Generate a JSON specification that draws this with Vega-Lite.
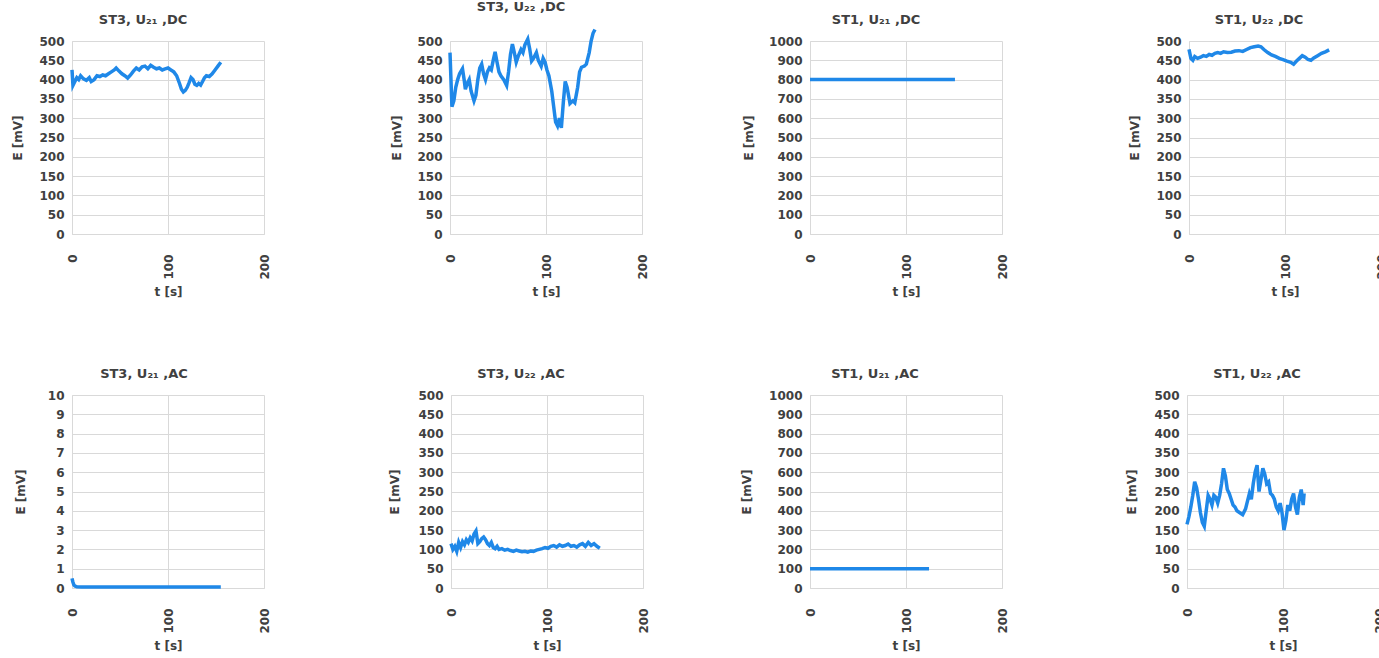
{
  "$schema": "https://vega.github.io/schema/vega-lite/v6.json",
  "autosize": {"type": "pad"},
  "padding": {"left": 0, "top": 1, "right": 0, "bottom": 0},
  "background": "white",
  "config": {
    "view": {"stroke": null},
    "font": "DejaVu Sans",
    "title": {"font": "DejaVu Sans", "fontSize": 13, "fontWeight": "bold", "color": "#404040", "offset": 8},
    "axis": {
      "labelFont": "DejaVu Sans", "labelFontSize": 12, "labelFontWeight": "bold", "labelColor": "#404040",
      "titleFont": "DejaVu Sans", "titleFontSize": 12, "titleFontWeight": "bold", "titleColor": "#404040",
      "gridColor": "#d9d9d9", "domainColor": "#d9d9d9", "ticks": false, "labelFlush": false, "format": "d"
    },
    "axisX": {"labelAngle": -90, "labelPadding": 20, "titlePadding": 7},
    "axisY": {"labelPadding": 8},
    "line": {"color": "#1f88e8", "strokeWidth": 3.5}
  },
  "datasets": {
    "p1": [
      {"t": 0, "E": 425}, {"t": 1, "E": 385}, {"t": 3, "E": 395}, {"t": 5, "E": 405}, {"t": 7, "E": 400}, {"t": 9, "E": 410},
      {"t": 12, "E": 402}, {"t": 15, "E": 398}, {"t": 18, "E": 405}, {"t": 20, "E": 395}, {"t": 23, "E": 400}, {"t": 26, "E": 410},
      {"t": 29, "E": 408}, {"t": 32, "E": 412}, {"t": 35, "E": 410}, {"t": 38, "E": 415}, {"t": 41, "E": 420}, {"t": 44, "E": 425},
      {"t": 46, "E": 430}, {"t": 49, "E": 422}, {"t": 52, "E": 415}, {"t": 55, "E": 410}, {"t": 58, "E": 404}, {"t": 61, "E": 412},
      {"t": 64, "E": 422}, {"t": 67, "E": 430}, {"t": 70, "E": 425}, {"t": 73, "E": 433}, {"t": 76, "E": 435}, {"t": 79, "E": 428},
      {"t": 82, "E": 437}, {"t": 85, "E": 432}, {"t": 88, "E": 428}, {"t": 91, "E": 430}, {"t": 94, "E": 425}, {"t": 97, "E": 428},
      {"t": 100, "E": 430}, {"t": 103, "E": 425}, {"t": 106, "E": 420}, {"t": 109, "E": 410}, {"t": 112, "E": 390}, {"t": 114, "E": 375},
      {"t": 116, "E": 368}, {"t": 118, "E": 372}, {"t": 120, "E": 380}, {"t": 122, "E": 392}, {"t": 124, "E": 405}, {"t": 126, "E": 400},
      {"t": 128, "E": 388}, {"t": 130, "E": 385}, {"t": 132, "E": 390}, {"t": 134, "E": 386}, {"t": 136, "E": 395}, {"t": 138, "E": 405},
      {"t": 140, "E": 410}, {"t": 143, "E": 408}, {"t": 146, "E": 415}, {"t": 149, "E": 425}, {"t": 152, "E": 435}, {"t": 155, "E": 445}
    ],
    "p2": [
      {"t": 0, "E": 470}, {"t": 2, "E": 330}, {"t": 4, "E": 345}, {"t": 6, "E": 380}, {"t": 8, "E": 400}, {"t": 10, "E": 415},
      {"t": 13, "E": 428}, {"t": 15, "E": 395}, {"t": 16, "E": 375}, {"t": 18, "E": 390}, {"t": 20, "E": 400}, {"t": 22, "E": 370},
      {"t": 25, "E": 345}, {"t": 27, "E": 360}, {"t": 29, "E": 400}, {"t": 31, "E": 430}, {"t": 33, "E": 440}, {"t": 35, "E": 415},
      {"t": 37, "E": 400}, {"t": 39, "E": 420}, {"t": 41, "E": 430}, {"t": 43, "E": 425}, {"t": 45, "E": 450}, {"t": 47, "E": 472},
      {"t": 49, "E": 445}, {"t": 51, "E": 420}, {"t": 53, "E": 410}, {"t": 56, "E": 400}, {"t": 59, "E": 385}, {"t": 61, "E": 420},
      {"t": 63, "E": 465}, {"t": 65, "E": 492}, {"t": 67, "E": 470}, {"t": 69, "E": 445}, {"t": 71, "E": 460}, {"t": 74, "E": 478},
      {"t": 76, "E": 470}, {"t": 78, "E": 490}, {"t": 81, "E": 505}, {"t": 83, "E": 480}, {"t": 85, "E": 448}, {"t": 87, "E": 455},
      {"t": 90, "E": 470}, {"t": 92, "E": 450}, {"t": 95, "E": 435}, {"t": 97, "E": 455}, {"t": 99, "E": 445}, {"t": 101, "E": 425},
      {"t": 103, "E": 410}, {"t": 106, "E": 370}, {"t": 108, "E": 330}, {"t": 110, "E": 290}, {"t": 112, "E": 280}, {"t": 114, "E": 300},
      {"t": 116, "E": 275}, {"t": 118, "E": 340}, {"t": 120, "E": 395}, {"t": 122, "E": 380}, {"t": 125, "E": 338}, {"t": 128, "E": 345},
      {"t": 130, "E": 340}, {"t": 133, "E": 380}, {"t": 135, "E": 420}, {"t": 137, "E": 432}, {"t": 140, "E": 435}, {"t": 142, "E": 440},
      {"t": 145, "E": 470}, {"t": 147, "E": 500}, {"t": 149, "E": 520}, {"t": 151, "E": 530}
    ],
    "p3": [
      {"t": 0, "E": 800}, {"t": 25, "E": 800}, {"t": 50, "E": 800}, {"t": 75, "E": 800}, {"t": 100, "E": 800}, {"t": 125, "E": 800}, {"t": 151, "E": 800}
    ],
    "p4": [
      {"t": 0, "E": 478}, {"t": 2, "E": 455}, {"t": 4, "E": 450}, {"t": 6, "E": 460}, {"t": 9, "E": 455}, {"t": 12, "E": 458},
      {"t": 15, "E": 462}, {"t": 18, "E": 460}, {"t": 21, "E": 465}, {"t": 24, "E": 463}, {"t": 27, "E": 468}, {"t": 30, "E": 470},
      {"t": 33, "E": 468}, {"t": 36, "E": 472}, {"t": 40, "E": 470}, {"t": 44, "E": 471}, {"t": 48, "E": 474}, {"t": 52, "E": 475},
      {"t": 56, "E": 473}, {"t": 60, "E": 478}, {"t": 64, "E": 483}, {"t": 68, "E": 485}, {"t": 72, "E": 487}, {"t": 75, "E": 485},
      {"t": 78, "E": 478}, {"t": 82, "E": 470}, {"t": 86, "E": 464}, {"t": 90, "E": 460}, {"t": 94, "E": 455}, {"t": 98, "E": 452},
      {"t": 102, "E": 448}, {"t": 106, "E": 445}, {"t": 109, "E": 440}, {"t": 112, "E": 448}, {"t": 115, "E": 455}, {"t": 118, "E": 462},
      {"t": 121, "E": 458}, {"t": 124, "E": 452}, {"t": 127, "E": 450}, {"t": 130, "E": 456}, {"t": 134, "E": 462}, {"t": 138, "E": 468},
      {"t": 142, "E": 472}, {"t": 146, "E": 477}
    ],
    "p5": [
      {"t": 0, "E": 0.5}, {"t": 1, "E": 0.3}, {"t": 2, "E": 0.15}, {"t": 3, "E": 0.1}, {"t": 5, "E": 0.07}, {"t": 10, "E": 0.05},
      {"t": 50, "E": 0.05}, {"t": 100, "E": 0.05}, {"t": 155, "E": 0.05}
    ],
    "p6": [
      {"t": 0, "E": 115}, {"t": 2, "E": 100}, {"t": 4, "E": 108}, {"t": 6, "E": 95}, {"t": 8, "E": 118}, {"t": 10, "E": 105},
      {"t": 12, "E": 120}, {"t": 14, "E": 112}, {"t": 16, "E": 125}, {"t": 18, "E": 118}, {"t": 20, "E": 130}, {"t": 22, "E": 122},
      {"t": 24, "E": 140}, {"t": 26, "E": 148}, {"t": 28, "E": 115}, {"t": 30, "E": 120}, {"t": 32, "E": 128}, {"t": 34, "E": 132},
      {"t": 36, "E": 125}, {"t": 38, "E": 115}, {"t": 40, "E": 110}, {"t": 42, "E": 118}, {"t": 44, "E": 105}, {"t": 46, "E": 102},
      {"t": 48, "E": 108}, {"t": 50, "E": 100}, {"t": 53, "E": 102}, {"t": 56, "E": 98}, {"t": 59, "E": 100}, {"t": 62, "E": 97},
      {"t": 65, "E": 95}, {"t": 68, "E": 98}, {"t": 71, "E": 96}, {"t": 74, "E": 94}, {"t": 77, "E": 95}, {"t": 80, "E": 93},
      {"t": 83, "E": 96}, {"t": 86, "E": 95}, {"t": 89, "E": 98}, {"t": 92, "E": 100}, {"t": 95, "E": 102}, {"t": 98, "E": 105},
      {"t": 101, "E": 103}, {"t": 104, "E": 108}, {"t": 107, "E": 110}, {"t": 110, "E": 106}, {"t": 113, "E": 112}, {"t": 116, "E": 108},
      {"t": 119, "E": 110}, {"t": 122, "E": 114}, {"t": 125, "E": 108}, {"t": 128, "E": 110}, {"t": 131, "E": 106}, {"t": 134, "E": 112},
      {"t": 137, "E": 115}, {"t": 140, "E": 108}, {"t": 143, "E": 118}, {"t": 146, "E": 110}, {"t": 149, "E": 115}, {"t": 152, "E": 108},
      {"t": 155, "E": 103}
    ],
    "p7": [
      {"t": 0, "E": 100}, {"t": 25, "E": 100}, {"t": 50, "E": 100}, {"t": 75, "E": 100}, {"t": 100, "E": 100}, {"t": 124, "E": 100}
    ],
    "p8": [
      {"t": 0, "E": 165}, {"t": 2, "E": 185}, {"t": 4, "E": 210}, {"t": 6, "E": 240}, {"t": 8, "E": 275}, {"t": 10, "E": 260},
      {"t": 12, "E": 230}, {"t": 14, "E": 195}, {"t": 16, "E": 170}, {"t": 18, "E": 160}, {"t": 20, "E": 200}, {"t": 22, "E": 240},
      {"t": 24, "E": 230}, {"t": 26, "E": 215}, {"t": 28, "E": 240}, {"t": 30, "E": 235}, {"t": 32, "E": 220}, {"t": 34, "E": 240},
      {"t": 36, "E": 270}, {"t": 38, "E": 310}, {"t": 40, "E": 290}, {"t": 42, "E": 255}, {"t": 44, "E": 245}, {"t": 46, "E": 230},
      {"t": 48, "E": 215}, {"t": 50, "E": 210}, {"t": 52, "E": 200}, {"t": 55, "E": 195}, {"t": 58, "E": 190}, {"t": 61, "E": 205},
      {"t": 63, "E": 225}, {"t": 65, "E": 245}, {"t": 67, "E": 230}, {"t": 69, "E": 270}, {"t": 71, "E": 300}, {"t": 73, "E": 318},
      {"t": 75, "E": 250}, {"t": 77, "E": 280}, {"t": 79, "E": 310}, {"t": 81, "E": 295}, {"t": 83, "E": 270}, {"t": 85, "E": 275},
      {"t": 87, "E": 245}, {"t": 89, "E": 240}, {"t": 91, "E": 230}, {"t": 93, "E": 210}, {"t": 95, "E": 200}, {"t": 97, "E": 220},
      {"t": 99, "E": 195}, {"t": 101, "E": 150}, {"t": 103, "E": 175}, {"t": 105, "E": 215}, {"t": 107, "E": 200}, {"t": 109, "E": 230},
      {"t": 111, "E": 245}, {"t": 113, "E": 210}, {"t": 115, "E": 190}, {"t": 117, "E": 235}, {"t": 119, "E": 255}, {"t": 121, "E": 215},
      {"t": 122, "E": 245}
    ]
  },
  "spacing": 70,
  "vconcat": [
    {
      "spacing": 0,
      "hconcat": [
        {
          "width": 192, "height": 193,
          "title": {"text": "ST3, U₂₁ ,DC", "dx": -25},
          "data": {"name": "p1"},
          "mark": "line",
          "encoding": {
            "x": {"field": "t", "type": "quantitative", "title": "t [s]", "scale": {"domain": [0, 200]}, "axis": {"values": [0, 100, 200]}},
            "y": {"field": "E", "type": "quantitative", "title": "E [mV]", "scale": {"domain": [0, 500]},
                  "axis": {"values": [0, 50, 100, 150, 200, 250, 300, 350, 400, 450, 500], "minExtent": 70, "maxExtent": 70, "titleX": -48}}
          }
        },
        {
          "width": 192, "height": 193,
          "title": {"text": "ST3, U₂₂ ,DC", "dx": -25},
          "data": {"name": "p2"},
          "mark": "line",
          "encoding": {
            "x": {"field": "t", "type": "quantitative", "title": "t [s]", "scale": {"domain": [0, 200]}, "axis": {"values": [0, 100, 200]}},
            "y": {"field": "E", "type": "quantitative", "title": "E [mV]", "scale": {"domain": [0, 500]},
                  "axis": {"values": [0, 50, 100, 150, 200, 250, 300, 350, 400, 450, 500], "minExtent": 180, "maxExtent": 180, "titleX": -47}}
          }
        },
        {
          "width": 192, "height": 193,
          "title": {"text": "ST1, U₂₁ ,DC", "dx": -30},
          "data": {"name": "p3"},
          "mark": "line",
          "encoding": {
            "x": {"field": "t", "type": "quantitative", "title": "t [s]", "scale": {"domain": [0, 200]}, "axis": {"values": [0, 100, 200]}},
            "y": {"field": "E", "type": "quantitative", "title": "E [mV]", "scale": {"domain": [0, 1000]},
                  "axis": {"values": [0, 100, 200, 300, 400, 500, 600, 700, 800, 900, 1000], "minExtent": 162, "maxExtent": 162, "titleX": -55}}
          }
        },
        {
          "width": 192, "height": 193,
          "title": {"text": "ST1, U₂₂ ,DC", "dx": -26},
          "data": {"name": "p4"},
          "mark": "line",
          "encoding": {
            "x": {"field": "t", "type": "quantitative", "title": "t [s]", "scale": {"domain": [0, 200]}, "axis": {"values": [0, 100, 200]}},
            "y": {"field": "E", "type": "quantitative", "title": "E [mV]", "scale": {"domain": [0, 500]},
                  "axis": {"values": [0, 50, 100, 150, 200, 250, 300, 350, 400, 450, 500], "minExtent": 181, "maxExtent": 181, "titleX": -48}}
          }
        }
      ]
    },
    {
      "spacing": 0,
      "hconcat": [
        {
          "width": 192, "height": 193,
          "title": {"text": "ST3, U₂₁ ,AC", "dx": -24},
          "data": {"name": "p5"},
          "mark": "line",
          "encoding": {
            "x": {"field": "t", "type": "quantitative", "title": "t [s]", "scale": {"domain": [0, 200]}, "axis": {"values": [0, 100, 200]}},
            "y": {"field": "E", "type": "quantitative", "title": "E [mV]", "scale": {"domain": [0, 10]},
                  "axis": {"values": [0, 1, 2, 3, 4, 5, 6, 7, 8, 9, 10], "minExtent": 72, "maxExtent": 72, "titleX": -45}}
          }
        },
        {
          "width": 192, "height": 193,
          "title": {"text": "ST3, U₂₂ ,AC", "dx": -26},
          "data": {"name": "p6"},
          "mark": "line",
          "encoding": {
            "x": {"field": "t", "type": "quantitative", "title": "t [s]", "scale": {"domain": [0, 200]}, "axis": {"values": [0, 100, 200]}},
            "y": {"field": "E", "type": "quantitative", "title": "E [mV]", "scale": {"domain": [0, 500]},
                  "axis": {"values": [0, 50, 100, 150, 200, 250, 300, 350, 400, 450, 500], "minExtent": 181, "maxExtent": 181, "titleX": -50}}
          }
        },
        {
          "width": 192, "height": 193,
          "title": {"text": "ST1, U₂₁ ,AC", "dx": -31},
          "data": {"name": "p7"},
          "mark": "line",
          "encoding": {
            "x": {"field": "t", "type": "quantitative", "title": "t [s]", "scale": {"domain": [0, 200]}, "axis": {"values": [0, 100, 200]}},
            "y": {"field": "E", "type": "quantitative", "title": "E [mV]", "scale": {"domain": [0, 1000]},
                  "axis": {"values": [0, 100, 200, 300, 400, 500, 600, 700, 800, 900, 1000], "minExtent": 161, "maxExtent": 161, "titleX": -57}}
          }
        },
        {
          "width": 192, "height": 193,
          "title": {"text": "ST1, U₂₂ ,AC", "dx": -26},
          "data": {"name": "p8"},
          "mark": "line",
          "encoding": {
            "x": {"field": "t", "type": "quantitative", "title": "t [s]", "scale": {"domain": [0, 200]}, "axis": {"values": [0, 100, 200]}},
            "y": {"field": "E", "type": "quantitative", "title": "E [mV]", "scale": {"domain": [0, 500]},
                  "axis": {"values": [0, 50, 100, 150, 200, 250, 300, 350, 400, 450, 500], "minExtent": 179, "maxExtent": 179, "titleX": -49}}
          }
        }
      ]
    }
  ]
}
